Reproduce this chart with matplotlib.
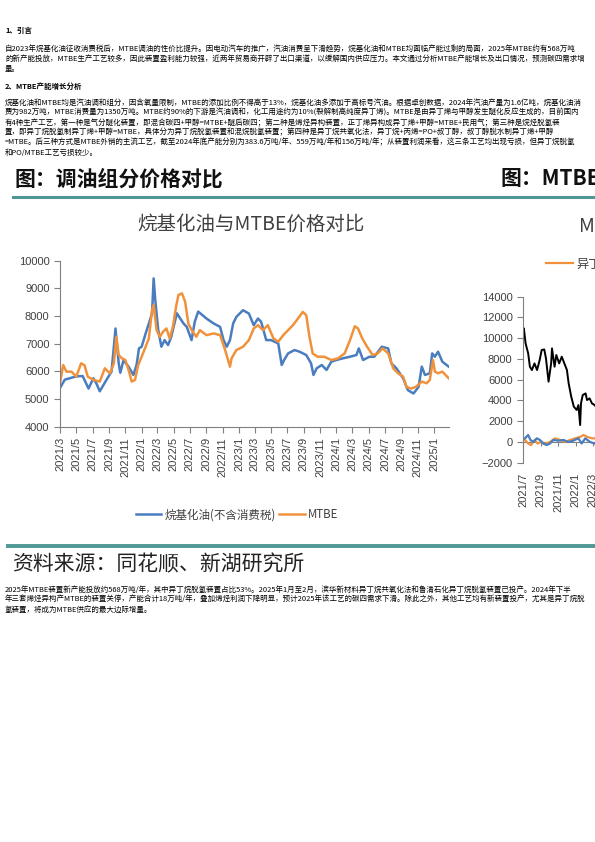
import matplotlib
matplotlib.use("Agg")
import matplotlib.pyplot as plt
import pandas as pd

plt.rcParams['font.family'] = ['Noto Sans CJK SC', 'DejaVu Sans']

W, H = 595, 842

# ---- page text ----
head1 = "1、引言"
para1 = [
    "自2023年烷基化油征收消费税后，MTBE调油的性价比提升。因电动汽车的推广，汽油消费呈下滑趋势，烷基化油和MTBE均面临产能过剩的局面，2025年MTBE约有568万吨",
    "的新产能投放，MTBE生产工艺较多，因此装置盈利能力较强，近两年贸易商开辟了出口渠道，以缓解国内供应压力。本文通过分析MTBE产能增长及出口情况，预测碳四需求增",
    "量。",
]
head2 = "2、MTBE产能增长分析"
para2 = [
    "烷基化油和MTBE均是汽油调和组分，因含氧量限制，MTBE的添加比例不得高于13%，烷基化油多添加于高标号汽油。根据卓创数据，2024年汽油产量为1.6亿吨，烷基化油消",
    "费为982万吨，MTBE消费量为1350万吨。MTBE约90%的下游是汽油调和，化工用途约为10%(裂解制高纯度异丁烯)。MTBE是由异丁烯与甲醇发生醚化反应生成的，目前国内",
    "有4种生产工艺，第一种是气分醚化装置，即混合碳四+甲醇=MTBE+醚后碳四；第二种是烯烃异构装置，正丁烯异构成异丁烯+甲醇=MTBE+民用气；第三种是烷烃脱氢装",
    "置，即异丁烷脱氢制异丁烯+甲醇=MTBE，具体分为异丁烷脱氢装置和混烷脱氢装置；第四种是异丁烷共氧化法，异丁烷+丙烯=PO+叔丁醇，叔丁醇脱水制异丁烯+甲醇",
    "=MTBE。后三种方式是MTBE外销的主流工艺，截至2024年底产能分别为383.6万吨/年、559万吨/年和156万吨/年；从装置利润来看，这三条工艺均出现亏损，但异丁烷脱氢",
    "和PO/MTBE工艺亏损较少。",
]
para3 = [
    "2025年MTBE装置新产能投放约568万吨/年，其中异丁烷脱氢装置占比53%。2025年1月至2月，滨华新材料异丁烷共氧化法和鲁清石化异丁烷脱氢装置已投产。2024年下半",
    "年三套烯烃异构产MTBE的装置关停，产能合计18万吨/年，叠加烯烃利润下降明显，预计2025年该工艺的碳四需求下滑。除此之外，其他工艺均有新装置投产，尤其是异丁烷脱",
    "氢装置，将成为MTBE供应的最大边际增量。",
]

# ---- left chart: alkylate vs MTBE price ----
alky_dates = ["2021-03-01", "2021-03-19", "2021-04-13", "2021-05-01", "2021-05-25", "2021-06-16",
              "2021-07-04", "2021-07-16", "2021-07-28", "2021-08-22", "2021-09-10", "2021-09-19",
              "2021-09-25", "2021-10-07", "2021-10-13", "2021-10-25", "2021-11-13", "2021-12-01",
              "2021-12-13", "2021-12-22", "2022-01-01", "2022-01-16", "2022-01-28", "2022-02-09",
              "2022-02-15", "2022-02-21", "2022-03-04", "2022-03-16", "2022-03-28", "2022-04-10",
              "2022-04-22", "2022-05-13", "2022-05-25", "2022-06-07", "2022-06-19", "2022-07-07",
              "2022-07-19", "2022-08-01", "2022-09-01", "2022-09-28", "2022-10-22", "2022-11-04",
              "2022-11-16", "2022-11-28", "2022-12-10", "2022-12-22", "2023-01-16", "2023-02-07",
              "2023-02-25", "2023-03-13", "2023-03-25", "2023-04-13", "2023-05-01", "2023-05-28",
              "2023-06-10", "2023-06-19", "2023-07-04", "2023-07-28", "2023-08-16", "2023-09-10",
              "2023-09-28", "2023-10-07", "2023-10-19", "2023-11-07", "2023-11-25", "2023-12-13",
              "2024-01-01", "2024-01-25", "2024-02-21", "2024-03-16", "2024-03-25", "2024-04-10",
              "2024-05-04", "2024-05-22", "2024-06-19", "2024-07-13", "2024-07-25", "2024-08-13",
              "2024-09-07", "2024-09-25", "2024-10-16", "2024-11-04", "2024-11-16", "2024-11-28",
              "2024-12-16", "2024-12-25", "2025-01-04", "2025-01-16", "2025-02-01", "2025-02-25"]
alky_vals = [5400, 5700, 5770, 5820, 5830, 5380,
             5750, 5550, 5280, 5690, 5990, 6900,
             7550, 6290, 5950, 6400, 6170, 5870,
             6230, 6830, 6890, 7370, 7730, 8100,
             9360, 8580, 7500, 6890, 7130, 6950,
             7250, 8100, 7920, 7730, 7610, 7130,
             7790, 8160, 7910, 7730, 7610, 7130,
             6890, 7130, 7730, 7970, 8210, 8090,
             7670, 7910, 7790, 7130, 7130, 7010,
             6230, 6410, 6650, 6770, 6710, 6590,
             6290, 5870, 6110, 6230, 6050, 6350,
             6410, 6470, 6530, 6590, 6830, 6410,
             6530, 6530, 6890, 6830, 6290, 6110,
             5750, 5320, 5200, 5440, 6170, 5870,
             5930, 6650, 6530, 6710, 6350, 6170]

mtbe_dates = ["2021-03-01", "2021-03-13", "2021-03-25", "2021-04-13", "2021-05-01", "2021-05-19",
              "2021-06-01", "2021-06-13", "2021-07-04", "2021-07-28", "2021-08-16", "2021-09-04",
              "2021-09-19", "2021-09-28", "2021-10-07", "2021-10-19", "2021-11-01", "2021-11-13",
              "2021-11-25", "2021-12-07", "2021-12-19", "2022-01-01", "2022-01-16", "2022-01-28",
              "2022-02-09", "2022-02-15", "2022-02-26", "2022-03-10", "2022-03-22", "2022-04-04",
              "2022-04-16", "2022-04-28", "2022-05-10", "2022-05-19", "2022-06-01", "2022-06-13",
              "2022-06-25", "2022-07-07", "2022-07-25", "2022-08-07", "2022-09-01", "2022-09-28",
              "2022-10-22", "2022-11-10", "2022-11-28", "2022-12-04", "2022-12-22", "2023-01-16",
              "2023-02-07", "2023-02-25", "2023-03-13", "2023-04-01", "2023-04-19", "2023-05-10",
              "2023-05-28", "2023-06-16", "2023-07-04", "2023-07-22", "2023-08-10", "2023-08-28",
              "2023-09-10", "2023-09-22", "2023-10-04", "2023-10-22", "2023-11-16", "2023-12-13",
              "2024-01-07", "2024-02-01", "2024-02-21", "2024-03-10", "2024-03-22", "2024-04-07",
              "2024-04-25", "2024-05-16", "2024-06-04", "2024-06-22", "2024-07-13", "2024-08-01",
              "2024-08-19", "2024-09-07", "2024-09-19", "2024-10-07", "2024-10-25", "2024-11-16",
              "2024-12-04", "2024-12-16", "2024-12-28", "2025-01-04", "2025-01-16", "2025-02-01",
              "2025-02-25"]
mtbe_vals = [5570, 6230, 5990, 5990, 5810, 6290,
             6220, 5810, 5690, 5630, 6110, 5930,
             6290, 7250, 6590, 6470, 6410, 6050,
             5630, 5690, 6230, 6530, 6890, 7190,
             8220, 8400, 7500, 7250, 7430, 7550,
             7190, 7610, 8340, 8760, 8820, 8520,
             7730, 7500, 7250, 7490, 7310, 7370,
             7310, 6770, 6170, 6470, 6770, 6890,
             7130, 7550, 7670, 7490, 7670, 7190,
             7070, 7310, 7490, 7670, 7910, 8150,
             8030, 7250, 6650, 6530, 6530, 6410,
             6470, 6650, 7130, 7630, 7550, 7190,
             6890, 6590, 6650, 6830, 6650, 6110,
             5930, 5810, 5440, 5380, 5440, 5630,
             5570, 5690, 6410, 5990, 5930, 5990,
             5750]

# ---- right chart (cut off at page edge) ----
spread_dates = ["2021-07-01", "2021-07-04", "2021-07-10", "2021-07-19", "2021-07-25", "2021-08-01",
                "2021-08-10", "2021-08-19", "2021-08-28", "2021-09-04", "2021-09-13", "2021-09-19",
                "2021-09-28", "2021-10-07", "2021-10-10", "2021-10-19", "2021-10-25", "2021-11-04",
                "2021-11-13", "2021-11-22", "2021-12-01", "2021-12-07", "2021-12-16", "2021-12-25",
                "2022-01-04", "2022-01-10", "2022-01-16", "2022-01-19", "2022-01-25", "2022-02-04",
                "2022-02-09", "2022-02-18", "2022-02-26", "2022-03-07", "2022-03-16", "2022-04-01"]
spread_vals = [10790, 10950, 9500, 8540, 7250, 6930,
               7570, 6930, 7890, 8860, 8920, 8050,
               5810, 7570, 9020, 7250, 8380, 7570,
               8220, 7570, 6930, 5650, 4360, 3400,
               3080, 3560, 1630, 3720, 4520, 4680,
               4040, 4200, 3720, 3560, 3300, 3100]
blue_r_dates = ["2021-07-01", "2021-07-08", "2021-07-19", "2021-07-27", "2021-08-06", "2021-08-18",
                "2021-08-29", "2021-09-10", "2021-09-21", "2021-10-03", "2021-10-14", "2021-11-01",
                "2021-11-19", "2021-12-06", "2021-12-23", "2022-01-10", "2022-01-21", "2022-02-03",
                "2022-02-19", "2022-03-07", "2022-03-25"]
blue_r_vals = [300, 350, 670, 190, 0, 350, 190, -150, -300, -150, 190, 120,
               190, 0, 120, 350, -150, 350, 0, -150, 0]
orange_r_dates = ["2021-07-01", "2021-07-08", "2021-07-19", "2021-07-29", "2021-08-10", "2021-08-21",
                  "2021-09-01", "2021-09-13", "2021-10-03", "2021-10-21", "2021-11-07", "2021-11-25",
                  "2021-12-12", "2021-12-30", "2022-01-17", "2022-01-28", "2022-02-09", "2022-02-26",
                  "2022-03-07", "2022-03-25"]
orange_r_vals = [200, 190, -150, -300, 190, -150, 0, -200, 0, 350, 190, 0,
                 190, 350, 500, 670, 500, 350, 350, 200]

BLUE = "#4a7dbf"
ORANGE = "#f0923c"
TEAL = "#4f9795"
GREY = "#404040"
TICKFONT = ['Liberation Sans', 'DejaVu Sans']


def px(x, y):
    return x / W, 1 - y / H


def box(x0, y0, x1, y1):
    return [x0 / W, 1 - y1 / H, (x1 - x0) / W, (y1 - y0) / H]


fig = plt.figure(figsize=(W / 100, H / 100), dpi=100)

# body text
fs = 5.4
fig.text(*px(5, 30), head1, fontsize=fs, fontweight='bold', va='center')
for i, line in enumerate(para1):
    fig.text(*px(5, 49 + i * 10), line, fontsize=fs, va='center')
fig.text(*px(5, 86), head2, fontsize=fs, fontweight='bold', va='center')
for i, line in enumerate(para2):
    fig.text(*px(5, 103 + i * 9.9), line, fontsize=fs, va='center')
for i, line in enumerate(para3):
    fig.text(*px(5, 590 + i * 10), line, fontsize=fs, va='center')

# chart headers and rules
fig.text(*px(14, 179), "图：调油组分价格对比", fontsize=15, fontweight='bold', va='center', color='#111111')
fig.text(*px(500, 179), "图：MTBE价差走势", fontsize=15, fontweight='bold', va='center', color='#111111')
fig.add_artist(plt.Line2D([13 / W, 1], [1 - 197 / H] * 2, color=TEAL, lw=2.2))
fig.add_artist(plt.Line2D([8 / W, 1], [1 - 546 / H] * 2, color=TEAL, lw=2.8))
fig.text(*px(12, 564), "资料来源：同花顺、新湖研究所", fontsize=15, va='center', color='#222222')

# left chart
fig.text(*px(251, 224), "烷基化油与MTBE价格对比", fontsize=14, ha='center', va='center', color=GREY)
ax = fig.add_axes(box(60, 260.7, 449, 426.7))
ax.plot(pd.to_datetime(alky_dates), alky_vals, color=BLUE, lw=1.8, label="烷基化油(不含消费税)")
ax.plot(pd.to_datetime(mtbe_dates), mtbe_vals, color=ORANGE, lw=1.8, label="MTBE")
ax.set_ylim(4000, 10000)
ax.set_xlim(pd.Timestamp("2021-03-01"), pd.Timestamp("2025-02-26"))
ax.set_yticks(range(4000, 10001, 1000))
ticks = pd.date_range("2021-03-01", "2025-01-01", freq="2MS")
ax.set_xticks(ticks)
ax.set_xticklabels([f"{d.year}/{d.month}" for d in ticks], rotation=90)
for s in ['top', 'right']:
    ax.spines[s].set_visible(False)
for s in ['left', 'bottom']:
    ax.spines[s].set_color('#808080')
ax.tick_params(colors='#808080', labelcolor=GREY, length=4, labelsize=8)
for lab in ax.get_xticklabels() + ax.get_yticklabels():
    lab.set_family(TICKFONT)
ax.legend(loc='center', bbox_to_anchor=((237 / W), 1 - 515 / H), bbox_transform=fig.transFigure,
          ncol=2, frameon=False, fontsize=8.3, handlelength=2.2, columnspacing=0.3, handletextpad=0.3,
          labelcolor=GREY)

# right chart (only the left edge fits on the page)
fig.text(*px(579, 226), "MTBE与异丁烷价差", fontsize=14, va='center', color=GREY)
ax2 = fig.add_axes(box(523, 296.7, 523 + 350, 462.7))
ax2.plot(pd.to_datetime(orange_r_dates), orange_r_vals, color=ORANGE, lw=1.6, label="异丁烷-MTBE价差")
ax2.plot(pd.to_datetime(blue_r_dates), blue_r_vals, color=BLUE, lw=1.6, label="烷基化油-MTBE价差")
ax2.plot(pd.to_datetime(spread_dates), spread_vals, color='black', lw=1.4, label="MTBE利润")
ax2.set_ylim(-2000, 14000)
ax2.set_xlim(pd.Timestamp("2021-07-01"), pd.Timestamp("2024-11-01"))
ax2.set_yticks(range(-2000, 14001, 2000))
rticks = pd.date_range("2021-07-01", "2024-09-01", freq="2MS")
ax2.set_xticks(rticks)
ax2.set_xticklabels([f"{d.year}/{d.month}" for d in rticks], rotation=90)
for s in ['top', 'right', 'bottom']:
    ax2.spines[s].set_visible(False)
ax2.spines['left'].set_color('#808080')
ax2.tick_params(axis='y', colors='#808080', labelcolor=GREY, length=4, labelsize=8)
ax2.tick_params(axis='x', length=0, labelcolor=GREY, labelsize=8, pad=7)
for lab in ax2.get_xticklabels() + ax2.get_yticklabels():
    lab.set_family(TICKFONT)
zero = ax2.secondary_xaxis(2000 / 16000)
zero.set_xticks(rticks)
zero.set_xticklabels([])
zero.spines['bottom'].set_color('#808080')
zero.tick_params(colors='#808080', length=3)
ax2.legend(loc='center left', bbox_to_anchor=(535 / W, 1 - 264 / H), bbox_transform=fig.transFigure,
           ncol=3, frameon=False, fontsize=8.8, handlelength=2.2, handletextpad=0.3, labelcolor=GREY)

fig.savefig("out.png", dpi=100)
